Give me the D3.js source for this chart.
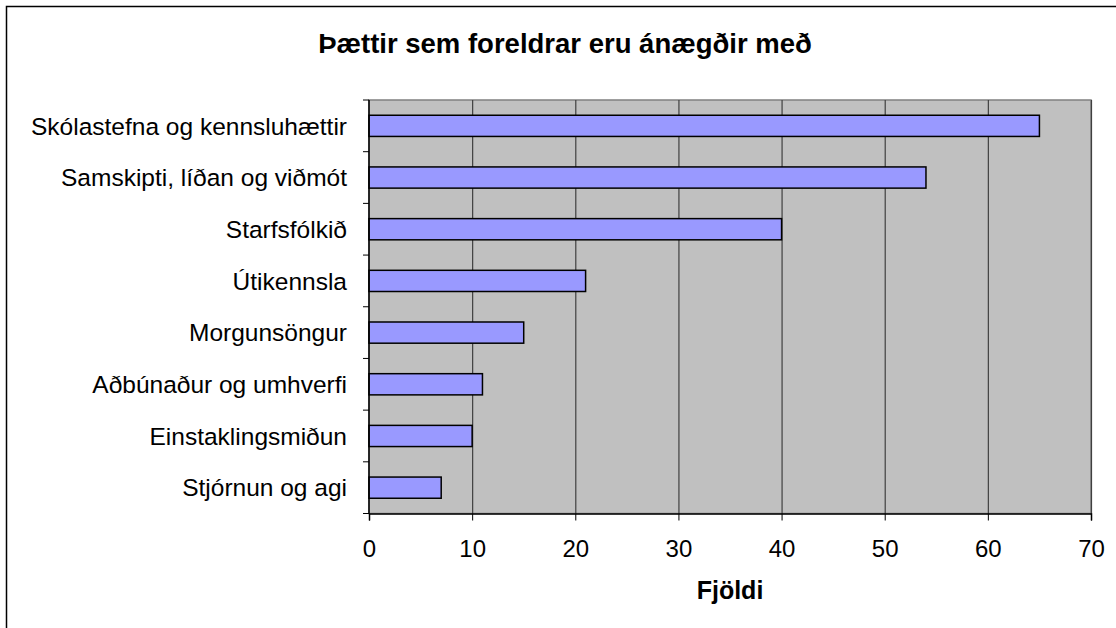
<!DOCTYPE html>
<html><head><meta charset="utf-8">
<script src="https://cdn.jsdelivr.net/npm/d3@7"></script>
<style>body{margin:0;background:#fff}svg{display:block}text{font-family:"Liberation Sans",Arial,sans-serif}</style>
</head><body><svg id="c" width="1116" height="628"></svg>
<script>
const categories = ["Skólastefna og kennsluhættir","Samskipti, líðan og viðmót","Starfsfólkið","Útikennsla","Morgunsöngur","Aðbúnaður og umhverfi","Einstaklingsmiðun","Stjórnun og agi"];
const values = [65,54,40,21,15,11,10,7];
const xTicks = [0,10,20,30,40,50,60,70];
const title = "Þættir sem foreldrar eru ánægðir með";
const xTitle = "Fjöldi";

const svg = d3.select("#c");
const L=369, R=1091, T=100, B=513.5;
svg.append("rect").attr("x",6.5).attr("y",6.5).attr("width",1130).attr("height",640)
  .attr("fill","#fff").attr("stroke","#000").attr("stroke-width",1.5);

const x = d3.scaleLinear().domain([0,70]).range([L,R]);
const y = d3.scaleBand().domain(categories).range([T,B]).paddingInner(0.59).paddingOuter(0.295);

svg.append("rect").attr("x",L).attr("y",T).attr("width",R-L).attr("height",B-T)
  .attr("fill","#c0c0c0").attr("stroke","#808080").attr("stroke-width",1.5);

svg.append("g").selectAll("line").data(xTicks.slice(1)).join("line")
  .attr("x1",d=>x(d)+0.5).attr("x2",d=>x(d)+0.5).attr("y1",T).attr("y2",B)
  .attr("stroke","#404040").attr("stroke-width",1.2);

svg.append("g").selectAll("rect").data(values).join("rect")
  .attr("x",x(0)).attr("y",(d,i)=>y(categories[i])).attr("width",d=>x(d)-x(0))
  .attr("height",y.bandwidth()).attr("fill","#9999ff").attr("stroke","#000").attr("stroke-width",1.5);

// y axis
const step = (B-T)/categories.length;
const ya = svg.append("g");
ya.append("line").attr("x1",L).attr("x2",L).attr("y1",T).attr("y2",B).attr("stroke","#000").attr("stroke-width",1.5);
ya.selectAll("line.t").data(d3.range(categories.length+1)).join("line").attr("class","t")
  .attr("x1",L-6).attr("x2",L).attr("y1",i=>T+i*step).attr("y2",i=>T+i*step).attr("stroke","#000").attr("stroke-width",1);
ya.selectAll("text").data(categories).join("text")
  .attr("x",L-22).attr("y",d=>y(d)+y.bandwidth()/2).attr("dy","0.36em")
  .attr("text-anchor","end").attr("font-size",24.5).attr("fill","#000").text(d=>d);

// x axis
const xa = svg.append("g").attr("transform",`translate(0,${B})`)
  .call(d3.axisBottom(x).tickValues(xTicks).tickSize(7).tickPadding(19.5).tickFormat(d3.format("d")));
xa.select(".domain").attr("stroke","#000").attr("stroke-width",1.5);
xa.selectAll(".tick line").attr("stroke","#000");
xa.selectAll(".tick text").attr("font-size",24).attr("font-family","Liberation Sans, Arial, sans-serif").attr("fill","#000");

svg.append("text").attr("x",565).attr("y",53).attr("text-anchor","middle")
  .attr("font-size",27.5).attr("font-weight","bold").text(title);
svg.append("text").attr("x",(L+R)/2).attr("y",599).attr("text-anchor","middle")
  .attr("font-size",25).attr("font-weight","bold").text(xTitle);
</script></body></html>
